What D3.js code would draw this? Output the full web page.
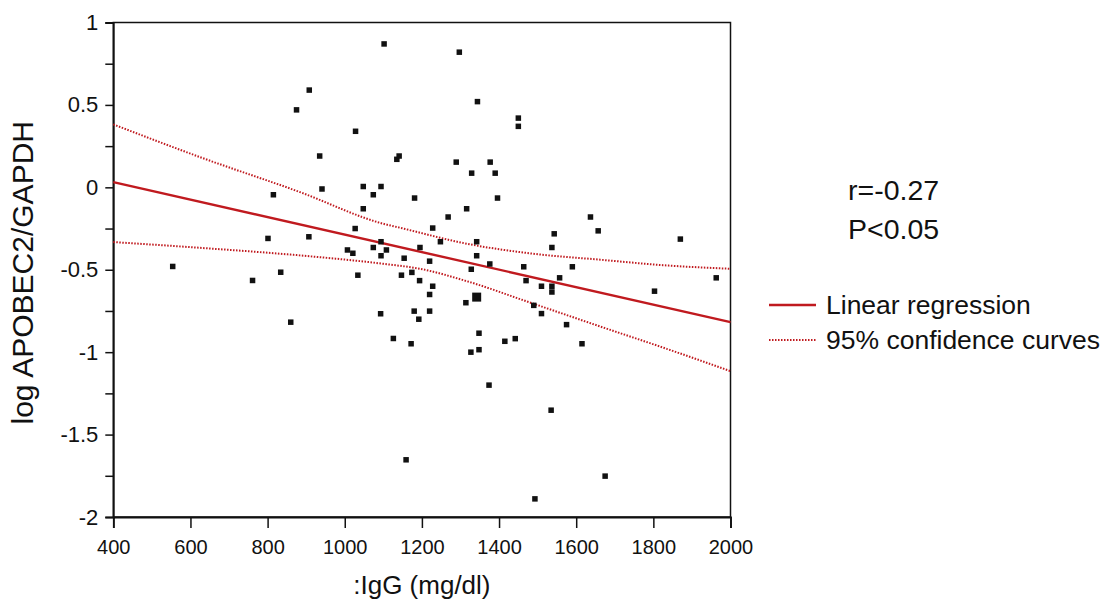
<!DOCTYPE html>
<html>
<head>
<meta charset="utf-8">
<script src="https://cdn.jsdelivr.net/npm/d3@7"></script>
<style>
  html, body { margin: 0; padding: 0; background: #ffffff; }
  svg text { font-family: "Liberation Sans", Arial, Helvetica, sans-serif; fill: #111; }
</style>
</head>
<body>
<svg id="chart" width="1113" height="605"></svg>
<script>
// ---- data ----
const igg = [1102, 908, 875, 1028, 935, 1135, 1141, 941, 815, 1048, 1094, 1074, 1181, 1048, 1027,
  801, 907, 1094, 1007, 1021, 1074, 1108, 1094, 1154, 554, 761, 834, 1034, 1147, 1174, 1194, 1195,
  1093, 1180, 1192, 860, 1126, 1172, 1159, 1297, 1344, 1450, 1450, 1289, 1377, 1329, 1390, 1396,
  1316, 1268, 1637, 1657, 1228, 1248, 1342, 1543, 1537, 1870, 1220, 1342, 1376, 1328, 1464, 1590,
  1963, 1557, 1470, 1228, 1510, 1537, 1537, 1803, 1220, 1314, 1220, 1490, 1510, 1575, 1348, 1327,
  1348, 1415, 1442, 1615, 1374, 1535, 1675, 1493];
const logRatio = [0.87, 0.59, 0.47, 0.34, 0.19, 0.17, 0.19, -0.01, -0.045, 0.005, 0.005, -0.045, -0.065, -0.13, -0.25,
  -0.31, -0.30, -0.33, -0.38, -0.40, -0.365, -0.38, -0.415, -0.43, -0.48, -0.565, -0.515, -0.533, -0.533, -0.516, -0.566, -0.365,
  -0.767, -0.751, -0.80, -0.818, -0.917, -0.949, -1.653, 0.82, 0.52, 0.42, 0.37, 0.153, 0.153, 0.086, 0.086, -0.065,
  -0.13, -0.18, -0.18, -0.264, -0.247, -0.33, -0.33, -0.282, -0.365, -0.314, -0.448, -0.415, -0.465, -0.497, -0.482, -0.482,
  -0.549, -0.549, -0.566, -0.60, -0.60, -0.60, -0.635, -0.63, -0.65, -0.70, -0.751, -0.716, -0.766, -0.833, -0.885, -1.0,
  -0.985, -0.934, -0.918, -0.949, -1.20, -1.352, -1.752, -1.89];
// overlapping observations drawn as one larger marker
const overlapIgg = [1342];
const overlapLog = [-0.666];

const regX = [400, 2000];
const regY = [0.032, -0.818];
const ciX = [400, 625, 884, 1100, 1143, 1316, 1489, 1662, 1835, 2000];
const ciUpper = [0.382, 0.183, -0.029, -0.221, -0.245, -0.342, -0.403, -0.439, -0.474, -0.494];
const ciLowerX = [400, 625, 884, 1100, 1195, 1316, 1489, 1662, 1835, 2000];
const ciLower = [-0.332, -0.367, -0.413, -0.464, -0.494, -0.569, -0.706, -0.844, -0.98, -1.115];

const xTicks = [400, 600, 800, 1000, 1200, 1400, 1600, 1800, 2000];
const yTicks = [-2, -1.75, -1.5, -1.25, -1, -0.75, -0.5, -0.25, 0, 0.25, 0.5, 0.75, 1];
const yLabelTicks = [-2, -1.5, -1, -0.5, 0, 0.5, 1];

const xTitle = ":IgG (mg/dl)";
const yTitle = "log APOBEC2/GAPDH";
const statLines = ["r=-0.27", "P<0.05"];
const legendLabels = ["Linear regression", "95% confidence curves"];

// ---- drawing ----
const svg = d3.select("#chart");
const pLeft = 113.3, pRight = 730.5, pTop = 22.5, pBottom = 517;
const x = d3.scaleLinear().domain([400, 2000]).range([pLeft, pRight]);
const y = d3.scaleLinear().domain([-2, 1]).range([pBottom, pTop]);
const red = "#c01a1f";

// frame
svg.append("rect").attr("x", pLeft).attr("y", pTop)
  .attr("width", pRight - pLeft).attr("height", pBottom - pTop)
  .attr("fill", "none").attr("stroke", "#111").attr("stroke-width", 1.5);

// x axis
const xAxis = svg.append("g").attr("transform", `translate(0,${pBottom})`)
  .call(d3.axisBottom(x).tickValues(xTicks).tickFormat(d3.format("d")).tickSize(11).tickPadding(12));
// y axis
const yAxis = svg.append("g").attr("transform", `translate(${pLeft},0)`)
  .call(d3.axisLeft(y).tickValues(yTicks).tickSize(8).tickPadding(7)
    .tickFormat(d => yLabelTicks.includes(d) ? String(d) : ""));
[xAxis, yAxis].forEach(g => {
  g.select(".domain").attr("stroke", "#111").attr("stroke-width", 1.8);
  g.selectAll(".tick line").attr("stroke", "#111").attr("stroke-width", 1.5);
  g.selectAll(".tick text").attr("fill", "#111")
    .attr("font-family", '"Liberation Sans", Arial, sans-serif');
});
xAxis.selectAll(".tick text").attr("font-size", 20);
yAxis.selectAll(".tick text").attr("font-size", 22);

// confidence curves
const line = d3.line().x(d => x(d[0])).y(d => y(d[1])).curve(d3.curveMonotoneX);
svg.append("path").datum(ciX.map((v, i) => [v, ciUpper[i]]))
  .attr("d", line).attr("fill", "none").attr("stroke", red)
  .attr("stroke-width", 2).attr("stroke-dasharray", "1.5,1.5");
svg.append("path").datum(ciLowerX.map((v, i) => [v, ciLower[i]]))
  .attr("d", line).attr("fill", "none").attr("stroke", red)
  .attr("stroke-width", 2).attr("stroke-dasharray", "1.5,1.5");
// regression line
svg.append("path").datum(regX.map((v, i) => [v, regY[i]]))
  .attr("d", d3.line().x(d => x(d[0])).y(d => y(d[1])))
  .attr("fill", "none").attr("stroke", red).attr("stroke-width", 2.4);

// points
const s = 5.5;
svg.append("g").selectAll("rect").data(igg.map((v, i) => [v, logRatio[i]])).join("rect")
  .attr("x", d => x(d[0]) - s / 2).attr("y", d => y(d[1]) - s / 2)
  .attr("width", s).attr("height", s).attr("fill", "#111");
const sb = 9;
svg.append("g").selectAll("rect").data(overlapIgg.map((v, i) => [v, overlapLog[i]])).join("rect")
  .attr("x", d => x(d[0]) - sb / 2).attr("y", d => y(d[1]) - sb / 2)
  .attr("width", sb).attr("height", sb).attr("fill", "#111");

// titles
svg.append("text").attr("x", (pLeft + pRight) / 2).attr("y", 594)
  .attr("text-anchor", "middle").attr("font-size", 26).text(xTitle);
svg.append("text").attr("transform", `translate(33,${(pTop + pBottom) / 2 + 3}) rotate(-90)`)
  .attr("text-anchor", "middle").attr("font-size", 30).text(yTitle);

// stats
svg.selectAll(".stat").data(statLines).join("text").attr("class", "stat")
  .attr("x", 848).attr("y", (d, i) => 200 + i * 39).attr("font-size", 28.5).text(d => d);

// legend
const lg = svg.append("g");
legendLabels.forEach((t, i) => {
  const ly = 305 + i * 35;
  lg.append("line").attr("x1", 769).attr("x2", 816).attr("y1", ly).attr("y2", ly)
    .attr("stroke", red).attr("stroke-width", i === 0 ? 2.4 : 2)
    .attr("stroke-dasharray", i === 0 ? null : "1.5,1.5");
  lg.append("text").attr("x", 826).attr("y", ly + 9).attr("font-size", 26.5).text(t);
});
</script>
</body>
</html>
